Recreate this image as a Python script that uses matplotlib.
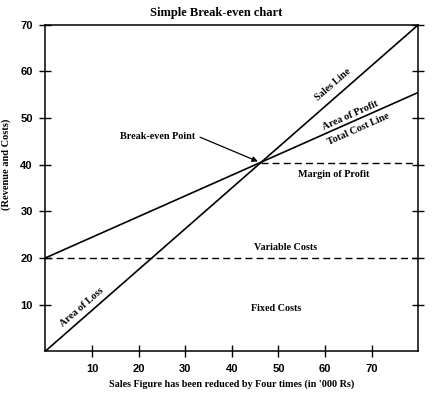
import matplotlib.pyplot as plt

# values
sales_x = [0, 80]
sales_y = [0, 70]
cost_x = [0, 80]
cost_y = [20, 55.5]
fixed_x = [0, 80]
fixed_y = [20, 20]
margin_x = [46.2, 80]
margin_y = [40.3, 40.3]
x_ticks = [10, 20, 30, 40, 50, 60, 70]
y_ticks = [10, 20, 30, 40, 50, 60, 70]

plt.rcParams['font.family'] = ['Liberation Serif', 'DejaVu Serif']
plt.rcParams['font.weight'] = 'bold'
plt.rcParams['axes.labelweight'] = 'bold'

fig = plt.figure(figsize=(4.32, 3.95), dpi=100)
ax = fig.add_axes([0.105, 0.111, 0.863, 0.826])

ax.plot(sales_x, sales_y, color='black', lw=1.2)
ax.plot(cost_x, cost_y, color='black', lw=1.2)
ax.plot(fixed_x, fixed_y, color='black', lw=1.0, dashes=(5, 3))
ax.plot(margin_x, margin_y, color='black', lw=1.0, dashes=(5, 3))

ax.set_xlim(0, 80)
ax.set_ylim(0, 70)
ax.set_xticks(x_ticks)
ax.set_yticks(y_ticks)
ax.tick_params(direction='inout', length=8, width=1, labelsize=8, pad=5)
ax.tick_params(axis='y', right=True)
for lab in ax.get_xticklabels() + ax.get_yticklabels():
    lab.set_family(['Liberation Sans', 'DejaVu Sans'])
for s in ax.spines.values():
    s.set_linewidth(1.1)

fs = 7.3
ax.text(61.8, 57.2, 'Sales Line', rotation=41, ha='center', va='center', fontsize=fs)
ax.text(65.5, 50.6, 'Area of Profit', rotation=24, ha='center', va='center', fontsize=fs)
ax.text(67.2, 47.6, 'Total Cost Line', rotation=24, ha='center', va='center', fontsize=fs)
ax.text(61.9, 38.0, 'Margin of Profit', ha='center', va='center', fontsize=fs)
ax.text(51.5, 22.3, 'Variable Costs', ha='center', va='center', fontsize=fs)
ax.text(49.6, 9.1, 'Fixed Costs', ha='center', va='center', fontsize=fs)
ax.text(7.8, 9.4, 'Area of Loss', rotation=41, ha='center', va='center', fontsize=fs)
ax.text(24, 46.1, 'Break-even Point', ha='center', va='center', fontsize=fs)
ax.annotate('', xy=(45.6, 40.7), xytext=(33.2, 45.9),
            arrowprops=dict(arrowstyle='-|>', color='black', lw=0.9,
                            mutation_scale=8, shrinkA=0, shrinkB=0))

ax.set_xlabel("Sales Figure has been reduced by Four times (in '000 Rs)", fontsize=7.3)
ax.set_ylabel('(Revenue and Costs)', fontsize=7.5)
ax.yaxis.set_label_coords(-0.092, 0.574)
fig.text(0.5, 0.967, 'Simple Break-even chart', ha='center', va='center',
         fontsize=9, fontweight='bold')

fig.savefig('out.png', dpi=100)
